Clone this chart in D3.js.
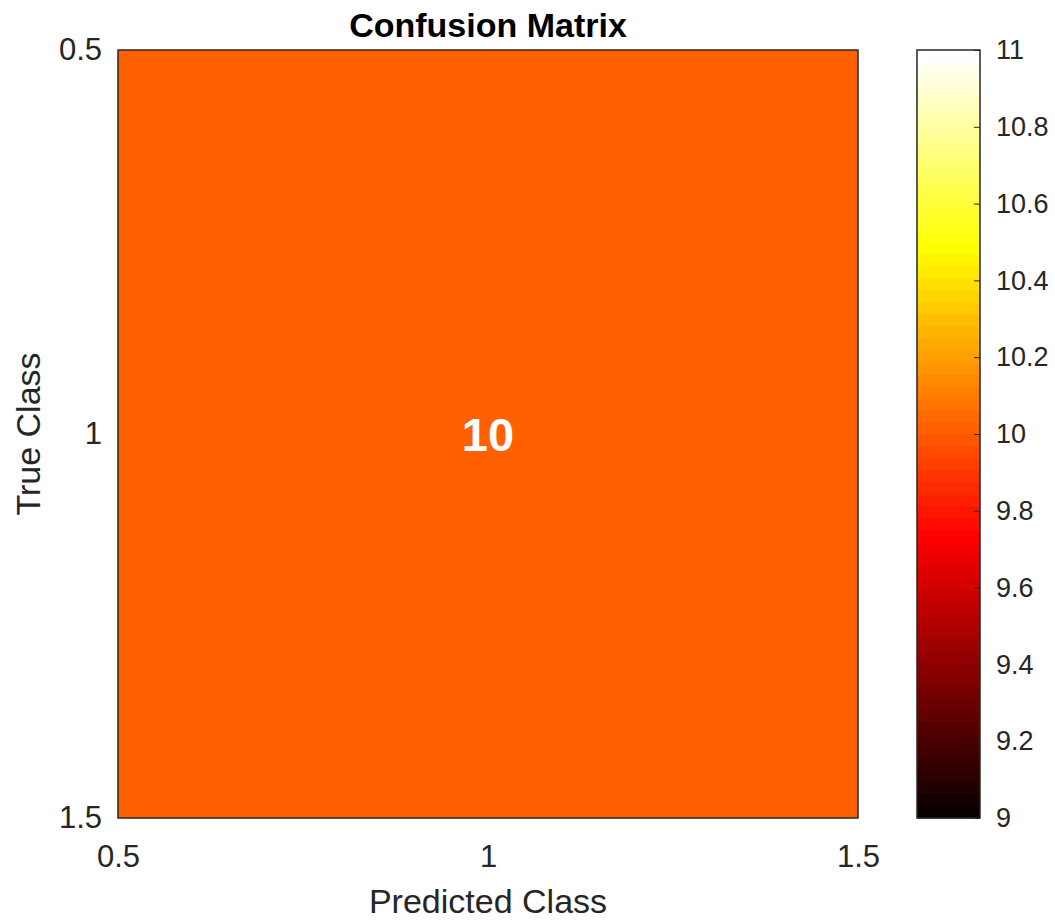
<!DOCTYPE html>
<html><head><meta charset="utf-8">
<script src="https://cdn.jsdelivr.net/npm/d3@7"></script>
<style>body{margin:0;background:#fff;} svg{display:block;font-family:"Liberation Sans",Arial,Helvetica,sans-serif;}</style>
</head><body>
<script>
const trueClasses = [1];
const predClasses = [1];
const counts = [[10]];
const xTicks = [0.5, 1, 1.5];
const yTicks = [0.5, 1, 1.5];
const cbTicks = [9, 9.2, 9.4, 9.6, 9.8, 10, 10.2, 10.4, 10.6, 10.8, 11];
const cLim = [9, 11];
const titleText = "Confusion Matrix";
const xLabel = "Predicted Class";
const yLabel = "True Class";

const W = 1055, H = 920;
const plot = {x0: 118, x1: 858, y0: 50, y1: 818};
const cb = {x0: 917, x1: 980, y0: 50, y1: 818};
const ink = "#262626";

// MATLAB 'hot' colormap, 64 entries
const N = 64;
const hotMap = (() => {
  const n1 = Math.floor(3/8*N), n2 = n1, n3 = N - n1 - n2;
  const arr = [];
  for (let i = 0; i < N; i++) {
    const r = i < n1 ? (i+1)/n1 : 1;
    const g = i < n1 ? 0 : (i < n1+n2 ? (i-n1+1)/n2 : 1);
    const b = i < n1+n2 ? 0 : (i-n1-n2+1)/n3;
    arr.push(d3.rgb(r*255, g*255, b*255).toString());
  }
  return arr;
})();
const colorOf = v => {
  let idx = Math.floor((v - cLim[0]) / (cLim[1]-cLim[0]) * N);
  idx = Math.max(0, Math.min(N-1, idx));
  return hotMap[idx];
};

const svg = d3.select("body").append("svg").attr("width", W).attr("height", H);

const x = d3.scaleLinear().domain([0.5, 1.5]).range([plot.x0, plot.x1]);
const y = d3.scaleLinear().domain([0.5, 1.5]).range([plot.y0, plot.y1]);

// cells
counts.forEach((row, i) => row.forEach((v, j) => {
  const c = predClasses[j], r = trueClasses[i];
  svg.append("rect")
    .attr("x", x(c-0.5)).attr("y", y(r-0.5))
    .attr("width", x(c+0.5)-x(c-0.5)).attr("height", y(r+0.5)-y(r-0.5))
    .attr("fill", colorOf(v));
  svg.append("text").attr("x", x(c)).attr("y", y(r)).attr("dy", "0.36em")
    .attr("text-anchor", "middle").attr("font-weight", "bold").attr("font-size", 47)
    .attr("fill", "#ffffff").text(v);
}));

svg.append("rect").attr("x", plot.x0).attr("y", plot.y0)
  .attr("width", plot.x1-plot.x0).attr("height", plot.y1-plot.y0)
  .attr("fill", "none").attr("stroke", ink).attr("stroke-width", 1.5);

// axes
const xAxis = svg.append("g").attr("transform", `translate(0,${plot.y1})`)
  .call(d3.axisBottom(x).tickValues(xTicks).tickSize(0).tickPadding(27).tickFormat(d3.format("")));
xAxis.select(".domain").remove();
xAxis.selectAll("text").attr("font-size", 31).attr("fill", ink).attr("font-family", null);

const yAxis = svg.append("g").attr("transform", `translate(${plot.x0},0)`)
  .call(d3.axisLeft(y).tickValues(yTicks).tickSize(0).tickPadding(16).tickFormat(d3.format("")));
yAxis.select(".domain").remove();
yAxis.selectAll("text").attr("font-size", 31).attr("fill", ink).attr("font-family", null);

// titles
svg.append("text").attr("x", (plot.x0+plot.x1)/2).attr("y", 37)
  .attr("text-anchor", "middle").attr("font-weight", "bold").attr("font-size", 34)
  .attr("fill", "#000").text(titleText);
svg.append("text").attr("x", (plot.x0+plot.x1)/2).attr("y", 913)
  .attr("text-anchor", "middle").attr("font-size", 34).attr("fill", ink).text(xLabel);
svg.append("text").attr("transform", `translate(40,${(plot.y0+plot.y1)/2}) rotate(-90)`)
  .attr("text-anchor", "middle").attr("font-size", 34).attr("fill", ink).text(yLabel);

// colorbar
const cy = d3.scaleLinear().domain(cLim).range([cb.y1, cb.y0]);
const steps = d3.range(N);
svg.append("g").selectAll("rect").data(steps).join("rect")
  .attr("x", cb.x0).attr("width", cb.x1-cb.x0)
  .attr("y", i => cy(cLim[0] + (i+1)*(cLim[1]-cLim[0])/N))
  .attr("height", i => cy(cLim[0] + i*(cLim[1]-cLim[0])/N) - cy(cLim[0] + (i+1)*(cLim[1]-cLim[0])/N) + 0.5)
  .attr("fill", i => hotMap[i]);
svg.append("rect").attr("x", cb.x0).attr("y", cb.y0)
  .attr("width", cb.x1-cb.x0).attr("height", cb.y1-cb.y0)
  .attr("fill", "none").attr("stroke", ink).attr("stroke-width", 1.5);
const cAxis = svg.append("g").attr("transform", `translate(${cb.x1},0)`)
  .call(d3.axisRight(cy).tickValues(cbTicks).tickSize(-6).tickPadding(16).tickFormat(d3.format("")));
cAxis.select(".domain").remove();
cAxis.selectAll("line").attr("stroke", ink);
cAxis.selectAll("text").attr("font-size", 27).attr("fill", ink).attr("font-family", null);
</script>
</body></html>
